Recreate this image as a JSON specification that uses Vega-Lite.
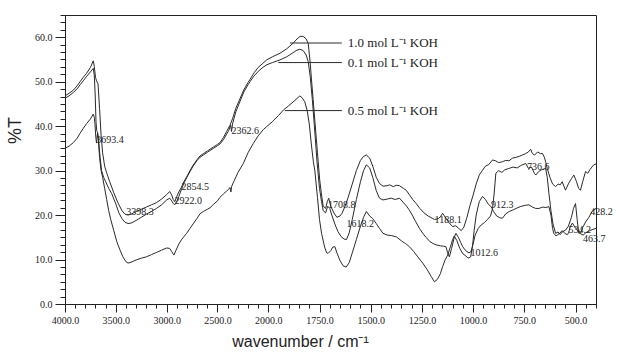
{
"$schema":"https://vega.github.io/schema/vega-lite/v6.json",
"width":531,"height":289,
"autosize":{"type":"none"},
"padding":{"left":65,"top":15,"right":21,"bottom":50},
"background":"white",
"config":{"view":{"stroke":"#222","strokeWidth":1},"axis":{"grid":false,"domainColor":"#222","tickColor":"#222","labelColor":"#222","titleColor":"#222"}},
"datasets":{
"curves":[
{"s":"1.0","wn":4000,"T":46.8},{"s":"1.0","wn":3960,"T":47.4},{"s":"1.0","wn":3918,"T":48.1},{"s":"1.0","wn":3880,"T":49.1},{"s":"1.0","wn":3852,"T":50.0},{"s":"1.0","wn":3820,"T":51.0},{"s":"1.0","wn":3787,"T":51.9},{"s":"1.0","wn":3750,"T":53.2},{"s":"1.0","wn":3722,"T":54.7},{"s":"1.0","wn":3712,"T":53.5},{"s":"1.0","wn":3700,"T":51.0},{"s":"1.0","wn":3690,"T":50.2},{"s":"1.0","wn":3675,"T":49.5},{"s":"1.0","wn":3660,"T":44},{"s":"1.0","wn":3645,"T":38},{"s":"1.0","wn":3630,"T":34},{"s":"1.0","wn":3610,"T":31},{"s":"1.0","wn":3590,"T":29.5},{"s":"1.0","wn":3560,"T":27.5},{"s":"1.0","wn":3520,"T":25},{"s":"1.0","wn":3480,"T":22.8},{"s":"1.0","wn":3440,"T":21},{"s":"1.0","wn":3410,"T":20.2},{"s":"1.0","wn":3380,"T":20.0},{"s":"1.0","wn":3350,"T":20.2},{"s":"1.0","wn":3300,"T":20.8},{"s":"1.0","wn":3250,"T":21.3},{"s":"1.0","wn":3200,"T":21.8},{"s":"1.0","wn":3150,"T":22.3},{"s":"1.0","wn":3100,"T":22.8},{"s":"1.0","wn":3050,"T":23.6},{"s":"1.0","wn":3000,"T":24.6},{"s":"1.0","wn":2970,"T":25.3},{"s":"1.0","wn":2950,"T":24.5},{"s":"1.0","wn":2935,"T":23.5},{"s":"1.0","wn":2920,"T":23.0},{"s":"1.0","wn":2900,"T":24.2},{"s":"1.0","wn":2880,"T":25.2},{"s":"1.0","wn":2854,"T":26.3},{"s":"1.0","wn":2830,"T":27.5},{"s":"1.0","wn":2803,"T":28.6},{"s":"1.0","wn":2770,"T":30},{"s":"1.0","wn":2740,"T":31.2},{"s":"1.0","wn":2700,"T":32.5},{"s":"1.0","wn":2672,"T":33.3},{"s":"1.0","wn":2640,"T":33.8},{"s":"1.0","wn":2600,"T":34.4},{"s":"1.0","wn":2574,"T":34.8},{"s":"1.0","wn":2540,"T":35.3},{"s":"1.0","wn":2500,"T":35.9},{"s":"1.0","wn":2475,"T":36.3},{"s":"1.0","wn":2440,"T":37.5},{"s":"1.0","wn":2410,"T":38.8},{"s":"1.0","wn":2377,"T":40.2},{"s":"1.0","wn":2350,"T":41.8},{"s":"1.0","wn":2320,"T":44},{"s":"1.0","wn":2278,"T":46.2},{"s":"1.0","wn":2240,"T":48.2},{"s":"1.0","wn":2200,"T":49.8},{"s":"1.0","wn":2180,"T":50.5},{"s":"1.0","wn":2140,"T":52},{"s":"1.0","wn":2100,"T":53.2},{"s":"1.0","wn":2060,"T":54},{"s":"1.0","wn":2016,"T":54.9},{"s":"1.0","wn":1980,"T":55.6},{"s":"1.0","wn":1943,"T":56.4},{"s":"1.0","wn":1910,"T":57.4},{"s":"1.0","wn":1880,"T":58.6},{"s":"1.0","wn":1860,"T":59.6},{"s":"1.0","wn":1845,"T":60.2},{"s":"1.0","wn":1830,"T":60.2},{"s":"1.0","wn":1815,"T":59.6},{"s":"1.0","wn":1805,"T":58.6},{"s":"1.0","wn":1795,"T":54},{"s":"1.0","wn":1789,"T":50.4},{"s":"1.0","wn":1781,"T":46},{"s":"1.0","wn":1773,"T":41.4},{"s":"1.0","wn":1760,"T":34},{"s":"1.0","wn":1749,"T":27.9},{"s":"1.0","wn":1740,"T":24.5},{"s":"1.0","wn":1732,"T":22.0},{"s":"1.0","wn":1720,"T":21.5},{"s":"1.0","wn":1712,"T":23},{"s":"1.0","wn":1705,"T":23.8},{"s":"1.0","wn":1695,"T":22},{"s":"1.0","wn":1680,"T":20.5},{"s":"1.0","wn":1665,"T":19.5},{"s":"1.0","wn":1650,"T":19.8},{"s":"1.0","wn":1640,"T":20.4},{"s":"1.0","wn":1625,"T":22},{"s":"1.0","wn":1610,"T":24},{"s":"1.0","wn":1590,"T":27},{"s":"1.0","wn":1570,"T":30},{"s":"1.0","wn":1550,"T":32.3},{"s":"1.0","wn":1535,"T":33.2},{"s":"1.0","wn":1521,"T":33.5},{"s":"1.0","wn":1505,"T":32.8},{"s":"1.0","wn":1490,"T":31},{"s":"1.0","wn":1473,"T":28.5},{"s":"1.0","wn":1457,"T":27.1},{"s":"1.0","wn":1440,"T":26.5},{"s":"1.0","wn":1420,"T":26.6},{"s":"1.0","wn":1408,"T":26.8},{"s":"1.0","wn":1390,"T":26.4},{"s":"1.0","wn":1375,"T":26.7},{"s":"1.0","wn":1359,"T":26.6},{"s":"1.0","wn":1340,"T":26},{"s":"1.0","wn":1327,"T":25.6},{"s":"1.0","wn":1310,"T":24.5},{"s":"1.0","wn":1295,"T":23.5},{"s":"1.0","wn":1278,"T":22.6},{"s":"1.0","wn":1260,"T":21.5},{"s":"1.0","wn":1240,"T":20.5},{"s":"1.0","wn":1220,"T":19.8},{"s":"1.0","wn":1200,"T":19.3},{"s":"1.0","wn":1188,"T":19.0},{"s":"1.0","wn":1170,"T":19.2},{"s":"1.0","wn":1160,"T":19.6},{"s":"1.0","wn":1149,"T":20.4},{"s":"1.0","wn":1140,"T":19.8},{"s":"1.0","wn":1120,"T":18.4},{"s":"1.0","wn":1100,"T":17.4},{"s":"1.0","wn":1085,"T":17.6},{"s":"1.0","wn":1070,"T":17.0},{"s":"1.0","wn":1058,"T":16.5},{"s":"1.0","wn":1045,"T":17.3},{"s":"1.0","wn":1030,"T":19.5},{"s":"1.0","wn":1015,"T":22.2},{"s":"1.0","wn":1000,"T":24.5},{"s":"1.0","wn":985,"T":27},{"s":"1.0","wn":970,"T":29},{"s":"1.0","wn":954,"T":30.1},{"s":"1.0","wn":940,"T":31},{"s":"1.0","wn":925,"T":31.3},{"s":"1.0","wn":905,"T":32.4},{"s":"1.0","wn":890,"T":32.2},{"s":"1.0","wn":875,"T":31.8},{"s":"1.0","wn":857,"T":32.0},{"s":"1.0","wn":840,"T":32.3},{"s":"1.0","wn":825,"T":32.2},{"s":"1.0","wn":808,"T":32.8},{"s":"1.0","wn":790,"T":33},{"s":"1.0","wn":775,"T":33.2},{"s":"1.0","wn":760,"T":33.5},{"s":"1.0","wn":745,"T":33.8},{"s":"1.0","wn":730,"T":34.2},{"s":"1.0","wn":719,"T":34.8},{"s":"1.0","wn":710,"T":33.8},{"s":"1.0","wn":700,"T":33.5},{"s":"1.0","wn":685,"T":34.2},{"s":"1.0","wn":670,"T":33.8},{"s":"1.0","wn":662,"T":33.9},{"s":"1.0","wn":652,"T":33},{"s":"1.0","wn":645,"T":31.8},{"s":"1.0","wn":638,"T":30.5},{"s":"1.0","wn":625,"T":28.5},{"s":"1.0","wn":612,"T":27},{"s":"1.0","wn":597,"T":26.4},{"s":"1.0","wn":585,"T":27.0},{"s":"1.0","wn":575,"T":26.8},{"s":"1.0","wn":565,"T":27.5},{"s":"1.0","wn":549,"T":25.6},{"s":"1.0","wn":535,"T":27},{"s":"1.0","wn":520,"T":28.2},{"s":"1.0","wn":508,"T":29.0},{"s":"1.0","wn":495,"T":27.5},{"s":"1.0","wn":485,"T":26},{"s":"1.0","wn":476,"T":25.6},{"s":"1.0","wn":465,"T":27.5},{"s":"1.0","wn":451,"T":29.8},{"s":"1.0","wn":440,"T":29.4},{"s":"1.0","wn":430,"T":30.2},{"s":"1.0","wn":420,"T":30.8},{"s":"1.0","wn":411,"T":31.3},{"s":"1.0","wn":400,"T":31.5},
{"s":"0.1","wn":4000,"T":46.3},{"s":"0.1","wn":3960,"T":46.8},{"s":"0.1","wn":3918,"T":47.6},{"s":"0.1","wn":3880,"T":48.4},{"s":"0.1","wn":3852,"T":49.3},{"s":"0.1","wn":3820,"T":50.2},{"s":"0.1","wn":3787,"T":51.2},{"s":"0.1","wn":3750,"T":52.2},{"s":"0.1","wn":3722,"T":53.0},{"s":"0.1","wn":3712,"T":51.5},{"s":"0.1","wn":3703,"T":47},{"s":"0.1","wn":3695,"T":41},{"s":"0.1","wn":3688,"T":39},{"s":"0.1","wn":3680,"T":38.6},{"s":"0.1","wn":3670,"T":37},{"s":"0.1","wn":3655,"T":33},{"s":"0.1","wn":3640,"T":30},{"s":"0.1","wn":3620,"T":28.5},{"s":"0.1","wn":3600,"T":27.5},{"s":"0.1","wn":3570,"T":26},{"s":"0.1","wn":3540,"T":24.8},{"s":"0.1","wn":3500,"T":22.5},{"s":"0.1","wn":3470,"T":20.5},{"s":"0.1","wn":3440,"T":19.2},{"s":"0.1","wn":3410,"T":18.4},{"s":"0.1","wn":3380,"T":18.1},{"s":"0.1","wn":3350,"T":18.2},{"s":"0.1","wn":3300,"T":18.8},{"s":"0.1","wn":3250,"T":19.5},{"s":"0.1","wn":3200,"T":20.2},{"s":"0.1","wn":3150,"T":20.8},{"s":"0.1","wn":3100,"T":21.5},{"s":"0.1","wn":3050,"T":22.3},{"s":"0.1","wn":3000,"T":23.4},{"s":"0.1","wn":2970,"T":23.8},{"s":"0.1","wn":2950,"T":23.2},{"s":"0.1","wn":2935,"T":22.6},{"s":"0.1","wn":2922,"T":22.3},{"s":"0.1","wn":2905,"T":22.8},{"s":"0.1","wn":2880,"T":24.2},{"s":"0.1","wn":2854,"T":25.8},{"s":"0.1","wn":2830,"T":27.2},{"s":"0.1","wn":2803,"T":28.4},{"s":"0.1","wn":2770,"T":29.8},{"s":"0.1","wn":2740,"T":31},{"s":"0.1","wn":2700,"T":32.3},{"s":"0.1","wn":2672,"T":33.0},{"s":"0.1","wn":2640,"T":33.5},{"s":"0.1","wn":2600,"T":34.1},{"s":"0.1","wn":2574,"T":34.5},{"s":"0.1","wn":2540,"T":35},{"s":"0.1","wn":2500,"T":35.6},{"s":"0.1","wn":2475,"T":36},{"s":"0.1","wn":2440,"T":37},{"s":"0.1","wn":2410,"T":38.2},{"s":"0.1","wn":2390,"T":39},{"s":"0.1","wn":2370,"T":40.2},{"s":"0.1","wn":2362,"T":38.8},{"s":"0.1","wn":2352,"T":40.5},{"s":"0.1","wn":2320,"T":43.2},{"s":"0.1","wn":2278,"T":45.6},{"s":"0.1","wn":2240,"T":47.7},{"s":"0.1","wn":2200,"T":49.3},{"s":"0.1","wn":2180,"T":50.0},{"s":"0.1","wn":2140,"T":51.3},{"s":"0.1","wn":2100,"T":52.3},{"s":"0.1","wn":2060,"T":53.1},{"s":"0.1","wn":2016,"T":53.8},{"s":"0.1","wn":1980,"T":54.3},{"s":"0.1","wn":1943,"T":54.9},{"s":"0.1","wn":1910,"T":55.6},{"s":"0.1","wn":1880,"T":56.5},{"s":"0.1","wn":1860,"T":57.1},{"s":"0.1","wn":1846,"T":57.3},{"s":"0.1","wn":1830,"T":57.0},{"s":"0.1","wn":1815,"T":56},{"s":"0.1","wn":1805,"T":54.5},{"s":"0.1","wn":1795,"T":51},{"s":"0.1","wn":1785,"T":46},{"s":"0.1","wn":1775,"T":40},{"s":"0.1","wn":1762,"T":32},{"s":"0.1","wn":1750,"T":26},{"s":"0.1","wn":1740,"T":23},{"s":"0.1","wn":1732,"T":21},{"s":"0.1","wn":1720,"T":20.5},{"s":"0.1","wn":1710,"T":22},{"s":"0.1","wn":1700,"T":21.5},{"s":"0.1","wn":1690,"T":20},{"s":"0.1","wn":1675,"T":18},{"s":"0.1","wn":1660,"T":16.3},{"s":"0.1","wn":1645,"T":15.2},{"s":"0.1","wn":1630,"T":14.6},{"s":"0.1","wn":1618,"T":14.5},{"s":"0.1","wn":1605,"T":16},{"s":"0.1","wn":1590,"T":19},{"s":"0.1","wn":1570,"T":23.5},{"s":"0.1","wn":1550,"T":27.5},{"s":"0.1","wn":1535,"T":30},{"s":"0.1","wn":1521,"T":31.3},{"s":"0.1","wn":1505,"T":30.6},{"s":"0.1","wn":1490,"T":28.5},{"s":"0.1","wn":1473,"T":25.5},{"s":"0.1","wn":1457,"T":23.8},{"s":"0.1","wn":1440,"T":23.4},{"s":"0.1","wn":1420,"T":23.6},{"s":"0.1","wn":1400,"T":23.8},{"s":"0.1","wn":1380,"T":23.5},{"s":"0.1","wn":1359,"T":23.8},{"s":"0.1","wn":1340,"T":22.8},{"s":"0.1","wn":1325,"T":22},{"s":"0.1","wn":1311,"T":21.1},{"s":"0.1","wn":1295,"T":19.8},{"s":"0.1","wn":1280,"T":18.5},{"s":"0.1","wn":1262,"T":17},{"s":"0.1","wn":1246,"T":15.9},{"s":"0.1","wn":1230,"T":15},{"s":"0.1","wn":1210,"T":14},{"s":"0.1","wn":1195,"T":13.6},{"s":"0.1","wn":1181,"T":13.3},{"s":"0.1","wn":1160,"T":13.1},{"s":"0.1","wn":1145,"T":13},{"s":"0.1","wn":1133,"T":12.9},{"s":"0.1","wn":1124,"T":11.5},{"s":"0.1","wn":1116,"T":10.6},{"s":"0.1","wn":1105,"T":12.5},{"s":"0.1","wn":1092,"T":15},{"s":"0.1","wn":1084,"T":15.9},{"s":"0.1","wn":1072,"T":15},{"s":"0.1","wn":1060,"T":13.8},{"s":"0.1","wn":1051,"T":12.9},{"s":"0.1","wn":1040,"T":12.2},{"s":"0.1","wn":1030,"T":11.8},{"s":"0.1","wn":1020,"T":11.5},{"s":"0.1","wn":1010,"T":11.8},{"s":"0.1","wn":1000,"T":13.5},{"s":"0.1","wn":990,"T":15.5},{"s":"0.1","wn":975,"T":17},{"s":"0.1","wn":960,"T":17.8},{"s":"0.1","wn":945,"T":18.3},{"s":"0.1","wn":930,"T":19},{"s":"0.1","wn":915,"T":19.8},{"s":"0.1","wn":905,"T":21.5},{"s":"0.1","wn":897,"T":25},{"s":"0.1","wn":889,"T":29.4},{"s":"0.1","wn":875,"T":30},{"s":"0.1","wn":860,"T":29.6},{"s":"0.1","wn":845,"T":30.2},{"s":"0.1","wn":824,"T":30.5},{"s":"0.1","wn":805,"T":30.8},{"s":"0.1","wn":785,"T":30.6},{"s":"0.1","wn":765,"T":31.2},{"s":"0.1","wn":743,"T":31.6},{"s":"0.1","wn":730,"T":30.5},{"s":"0.1","wn":715,"T":30.8},{"s":"0.1","wn":700,"T":29.3},{"s":"0.1","wn":694,"T":29.0},{"s":"0.1","wn":680,"T":29.8},{"s":"0.1","wn":665,"T":30.2},{"s":"0.1","wn":646,"T":30.5},{"s":"0.1","wn":638,"T":28.5},{"s":"0.1","wn":630,"T":24.9},{"s":"0.1","wn":620,"T":21},{"s":"0.1","wn":610,"T":18},{"s":"0.1","wn":597,"T":15.9},{"s":"0.1","wn":585,"T":16.2},{"s":"0.1","wn":575,"T":15.6},{"s":"0.1","wn":565,"T":16.2},{"s":"0.1","wn":549,"T":16.6},{"s":"0.1","wn":535,"T":17.5},{"s":"0.1","wn":520,"T":19.5},{"s":"0.1","wn":510,"T":21.5},{"s":"0.1","wn":500,"T":22.6},{"s":"0.1","wn":492,"T":19},{"s":"0.1","wn":484,"T":15.9},{"s":"0.1","wn":475,"T":16},{"s":"0.1","wn":465,"T":17.2},{"s":"0.1","wn":450,"T":18.5},{"s":"0.1","wn":435,"T":19.5},{"s":"0.1","wn":419,"T":20.8},{"s":"0.1","wn":400,"T":21.5},
{"s":"0.5","wn":4000,"T":35.0},{"s":"0.5","wn":3960,"T":35.5},{"s":"0.5","wn":3918,"T":36.3},{"s":"0.5","wn":3880,"T":37.3},{"s":"0.5","wn":3852,"T":38.4},{"s":"0.5","wn":3820,"T":39.5},{"s":"0.5","wn":3787,"T":40.6},{"s":"0.5","wn":3750,"T":41.6},{"s":"0.5","wn":3722,"T":42.7},{"s":"0.5","wn":3712,"T":42},{"s":"0.5","wn":3705,"T":40.5},{"s":"0.5","wn":3697,"T":37.5},{"s":"0.5","wn":3690,"T":36.2},{"s":"0.5","wn":3680,"T":38.5},{"s":"0.5","wn":3672,"T":37},{"s":"0.5","wn":3660,"T":33},{"s":"0.5","wn":3645,"T":30},{"s":"0.5","wn":3630,"T":28.5},{"s":"0.5","wn":3610,"T":26},{"s":"0.5","wn":3590,"T":23.5},{"s":"0.5","wn":3570,"T":21},{"s":"0.5","wn":3550,"T":19},{"s":"0.5","wn":3520,"T":16.5},{"s":"0.5","wn":3490,"T":14},{"s":"0.5","wn":3460,"T":12.2},{"s":"0.5","wn":3430,"T":10.6},{"s":"0.5","wn":3400,"T":9.5},{"s":"0.5","wn":3380,"T":9.2},{"s":"0.5","wn":3350,"T":9.4},{"s":"0.5","wn":3300,"T":9.9},{"s":"0.5","wn":3250,"T":10.3},{"s":"0.5","wn":3200,"T":10.6},{"s":"0.5","wn":3150,"T":11.1},{"s":"0.5","wn":3100,"T":11.6},{"s":"0.5","wn":3050,"T":12.1},{"s":"0.5","wn":3000,"T":12.6},{"s":"0.5","wn":2970,"T":12.5},{"s":"0.5","wn":2950,"T":11.8},{"s":"0.5","wn":2935,"T":11.2},{"s":"0.5","wn":2928,"T":11.0},{"s":"0.5","wn":2910,"T":12},{"s":"0.5","wn":2880,"T":13.5},{"s":"0.5","wn":2850,"T":14.6},{"s":"0.5","wn":2803,"T":15.9},{"s":"0.5","wn":2770,"T":17},{"s":"0.5","wn":2740,"T":18},{"s":"0.5","wn":2700,"T":19.3},{"s":"0.5","wn":2672,"T":20.3},{"s":"0.5","wn":2640,"T":20.8},{"s":"0.5","wn":2600,"T":21.3},{"s":"0.5","wn":2574,"T":21.6},{"s":"0.5","wn":2540,"T":22.4},{"s":"0.5","wn":2500,"T":23.2},{"s":"0.5","wn":2475,"T":24},{"s":"0.5","wn":2440,"T":24.8},{"s":"0.5","wn":2410,"T":25.4},{"s":"0.5","wn":2390,"T":25.8},{"s":"0.5","wn":2377,"T":26.2},{"s":"0.5","wn":2368,"T":25.2},{"s":"0.5","wn":2360,"T":26.5},{"s":"0.5","wn":2340,"T":27.5},{"s":"0.5","wn":2300,"T":29.5},{"s":"0.5","wn":2246,"T":31.6},{"s":"0.5","wn":2200,"T":34},{"s":"0.5","wn":2148,"T":36.1},{"s":"0.5","wn":2100,"T":37.8},{"s":"0.5","wn":2050,"T":39.2},{"s":"0.5","wn":2016,"T":39.9},{"s":"0.5","wn":1980,"T":41},{"s":"0.5","wn":1950,"T":42.4},{"s":"0.5","wn":1927,"T":43.6},{"s":"0.5","wn":1900,"T":44.6},{"s":"0.5","wn":1870,"T":45.8},{"s":"0.5","wn":1846,"T":46.8},{"s":"0.5","wn":1835,"T":46.4},{"s":"0.5","wn":1822,"T":45.5},{"s":"0.5","wn":1810,"T":43.5},{"s":"0.5","wn":1800,"T":40.5},{"s":"0.5","wn":1790,"T":36},{"s":"0.5","wn":1780,"T":32},{"s":"0.5","wn":1773,"T":30.1},{"s":"0.5","wn":1760,"T":24},{"s":"0.5","wn":1750,"T":19},{"s":"0.5","wn":1740,"T":15.9},{"s":"0.5","wn":1725,"T":12.8},{"s":"0.5","wn":1715,"T":11.5},{"s":"0.5","wn":1708,"T":11.4},{"s":"0.5","wn":1695,"T":12},{"s":"0.5","wn":1685,"T":12.8},{"s":"0.5","wn":1675,"T":12.9},{"s":"0.5","wn":1665,"T":11.5},{"s":"0.5","wn":1650,"T":9.8},{"s":"0.5","wn":1635,"T":8.6},{"s":"0.5","wn":1620,"T":8.3},{"s":"0.5","wn":1605,"T":9.3},{"s":"0.5","wn":1590,"T":11.5},{"s":"0.5","wn":1570,"T":14.5},{"s":"0.5","wn":1550,"T":17.5},{"s":"0.5","wn":1535,"T":19.5},{"s":"0.5","wn":1521,"T":20.8},{"s":"0.5","wn":1505,"T":19.8},{"s":"0.5","wn":1490,"T":19.2},{"s":"0.5","wn":1473,"T":18.1},{"s":"0.5","wn":1457,"T":17},{"s":"0.5","wn":1440,"T":15.9},{"s":"0.5","wn":1420,"T":15.5},{"s":"0.5","wn":1400,"T":15.4},{"s":"0.5","wn":1375,"T":15.1},{"s":"0.5","wn":1350,"T":14.2},{"s":"0.5","wn":1330,"T":13.6},{"s":"0.5","wn":1311,"T":12.9},{"s":"0.5","wn":1290,"T":11.8},{"s":"0.5","wn":1270,"T":10.6},{"s":"0.5","wn":1246,"T":9.2},{"s":"0.5","wn":1225,"T":7.8},{"s":"0.5","wn":1205,"T":6.2},{"s":"0.5","wn":1189,"T":5.0},{"s":"0.5","wn":1175,"T":5.5},{"s":"0.5","wn":1160,"T":6.8},{"s":"0.5","wn":1149,"T":8.4},{"s":"0.5","wn":1136,"T":10},{"s":"0.5","wn":1124,"T":11.0},{"s":"0.5","wn":1110,"T":13},{"s":"0.5","wn":1100,"T":14.5},{"s":"0.5","wn":1092,"T":15.3},{"s":"0.5","wn":1080,"T":14.3},{"s":"0.5","wn":1065,"T":12.5},{"s":"0.5","wn":1050,"T":11.3},{"s":"0.5","wn":1035,"T":10.8},{"s":"0.5","wn":1025,"T":10.3},{"s":"0.5","wn":1012,"T":10.6},{"s":"0.5","wn":1003,"T":13},{"s":"0.5","wn":995,"T":16.5},{"s":"0.5","wn":985,"T":20},{"s":"0.5","wn":970,"T":23},{"s":"0.5","wn":954,"T":24.2},{"s":"0.5","wn":940,"T":23.5},{"s":"0.5","wn":925,"T":22.4},{"s":"0.5","wn":912,"T":21.9},{"s":"0.5","wn":900,"T":20.8},{"s":"0.5","wn":885,"T":19.8},{"s":"0.5","wn":870,"T":19.4},{"s":"0.5","wn":857,"T":19.3},{"s":"0.5","wn":840,"T":20.3},{"s":"0.5","wn":824,"T":20.8},{"s":"0.5","wn":808,"T":21.1},{"s":"0.5","wn":790,"T":21.5},{"s":"0.5","wn":770,"T":21.9},{"s":"0.5","wn":745,"T":22.2},{"s":"0.5","wn":727,"T":22.3},{"s":"0.5","wn":710,"T":21.8},{"s":"0.5","wn":695,"T":21.5},{"s":"0.5","wn":678,"T":21.5},{"s":"0.5","wn":660,"T":21.8},{"s":"0.5","wn":645,"T":21.7},{"s":"0.5","wn":630,"T":21.9},{"s":"0.5","wn":620,"T":20},{"s":"0.5","wn":612,"T":17},{"s":"0.5","wn":606,"T":15.9},{"s":"0.5","wn":595,"T":15.3},{"s":"0.5","wn":580,"T":15.8},{"s":"0.5","wn":565,"T":16.5},{"s":"0.5","wn":550,"T":15.8},{"s":"0.5","wn":540,"T":15.6},{"s":"0.5","wn":534,"T":16},{"s":"0.5","wn":525,"T":17.5},{"s":"0.5","wn":515,"T":18.2},{"s":"0.5","wn":505,"T":17.4},{"s":"0.5","wn":495,"T":16.8},{"s":"0.5","wn":485,"T":16.4},{"s":"0.5","wn":475,"T":15.8},{"s":"0.5","wn":463,"T":15.5},{"s":"0.5","wn":450,"T":16},{"s":"0.5","wn":430,"T":16.5},{"s":"0.5","wn":415,"T":16.8},{"s":"0.5","wn":400,"T":17}
],
"peaks":[
{"label":"3693.4","wn":3693.4,"T":36.9},{"label":"3398.3","wn":3398.3,"T":20.8},{"label":"2922.0","wn":2922.0,"T":23.2},{"label":"2854.5","wn":2854.5,"T":26.4},{"label":"2362.6","wn":2362.6,"T":38.8},{"label":"1708.8","wn":1708.8,"T":22.3},{"label":"1618.2","wn":1618.2,"T":18.1},{"label":"1188.1","wn":1188.1,"T":18.9},{"label":"1012.6","wn":1012.6,"T":11.4},{"label":"912.3","wn":912.3,"T":22.3},{"label":"736.6","wn":736.6,"T":30.9},{"label":"534.2","wn":534.2,"T":16.6},{"label":"463.7","wn":463.7,"T":14.7},{"label":"428.2","wn":428.2,"T":20.8}
],
"legend":[
{"label":"1.0 mol L⁻¹ KOH","from":1894,"to":1641,"textwn":1612,"T":58.7},
{"label":"0.1 mol L⁻¹ KOH","from":1951,"to":1641,"textwn":1612,"T":54.3},
{"label":"0.5 mol L⁻¹ KOH","from":1919,"to":1641,"textwn":1612,"T":43.5}
]
},
"layer":[
{"data":{"name":"curves"},
 "mark":{"type":"line","stroke":"#2a2a2a","strokeWidth":1,"clip":true},
 "encoding":{
  "x":{"field":"wn","type":"quantitative","scale":{"domain":[4000,2000,400],"range":[0,203.3,531],"zero":false,"nice":false},
   "axis":{"orient":"bottom","values":[4000,3500,3000,2500,2000,1750,1500,1250,1000,750,500],"format":".1f","tickSize":8,"labelFont":"Liberation Serif","labelFontSize":10,"labelPadding":3,"labelFlush":false,"labelOverlap":false,"title":"wavenumber / cm⁻¹","titleFont":"Liberation Sans","titleFontSize":16,"titleFontWeight":"normal","titleX":235,"titleY":42,"titleAlign":"center","titleBaseline":"alphabetic"}},
  "y":{"field":"T","type":"quantitative","scale":{"domain":[0,65],"zero":false,"nice":false},
   "axis":{"orient":"left","values":[0,10,20,30,40,50,60],"format":".1f","tickSize":10,"labelFont":"Liberation Serif","labelFontSize":10,"labelPadding":3,"labelFlush":false,"labelOverlap":false,"title":"%T","titleFont":"Liberation Sans","titleFontSize":18,"titleFontWeight":"normal","titleAngle":270,"titleX":-50,"titleY":115,"titleAlign":"center","titleBaseline":"middle"}},
  "detail":{"field":"s","type":"nominal"}
 }},
{"data":{"name":"legend"},
 "mark":{"type":"rule","stroke":"#2a2a2a","strokeWidth":1},
 "encoding":{
  "x":{"field":"from","type":"quantitative","scale":{"domain":[4000,2000,400],"range":[0,203.3,531],"zero":false,"nice":false},
   "axis":{"orient":"bottom","values":[4000,3900,3800,3700,3600,3500,3400,3300,3200,3100,3000,2900,2800,2700,2600,2500,2400,2300,2200,2100,2000,1950,1900,1850,1800,1750,1700,1650,1600,1550,1500,1450,1400,1350,1300,1250,1200,1150,1100,1050,1000,950,900,850,800,750,700,650,600,550,500,450,400],"tickSize":4,"labels":false,"domain":false,"title":null}},
  "x2":{"field":"to"},
  "y":{"field":"T","type":"quantitative","scale":{"domain":[0,65],"zero":false,"nice":false},
   "axis":{"orient":"left","values":[0,1.6667,3.3333,5,6.6667,8.3333,10,11.6667,13.3333,15,16.6667,18.3333,20,21.6667,23.3333,25,26.6667,28.3333,30,31.6667,33.3333,35,36.6667,38.3333,40,41.6667,43.3333,45,46.6667,48.3333,50,51.6667,53.3333,55,56.6667,58.3333,60,61.6667,63.3333,65],"tickSize":5,"labels":false,"domain":false,"title":null}}
 }},
{"data":{"name":"legend"},
 "mark":{"type":"text","font":"Liberation Serif","fontSize":13,"align":"left","baseline":"middle","fill":"#222"},
 "encoding":{
  "x":{"field":"textwn","type":"quantitative","scale":{"domain":[4000,2000,400],"range":[0,203.3,531],"zero":false,"nice":false},"axis":null},
  "y":{"field":"T","type":"quantitative","scale":{"domain":[0,65],"zero":false,"nice":false},"axis":null},
  "text":{"field":"label"}
 }},
{"data":{"name":"peaks"},
 "mark":{"type":"text","font":"Liberation Serif","fontSize":10,"align":"left","baseline":"middle","fill":"#222"},
 "encoding":{
  "x":{"field":"wn","type":"quantitative","scale":{"domain":[4000,2000,400],"range":[0,203.3,531],"zero":false,"nice":false},"axis":null},
  "y":{"field":"T","type":"quantitative","scale":{"domain":[0,65],"zero":false,"nice":false},"axis":null},
  "text":{"field":"label"}
 }}
],
"resolve":{"axis":{"x":"independent","y":"independent"}}
}
